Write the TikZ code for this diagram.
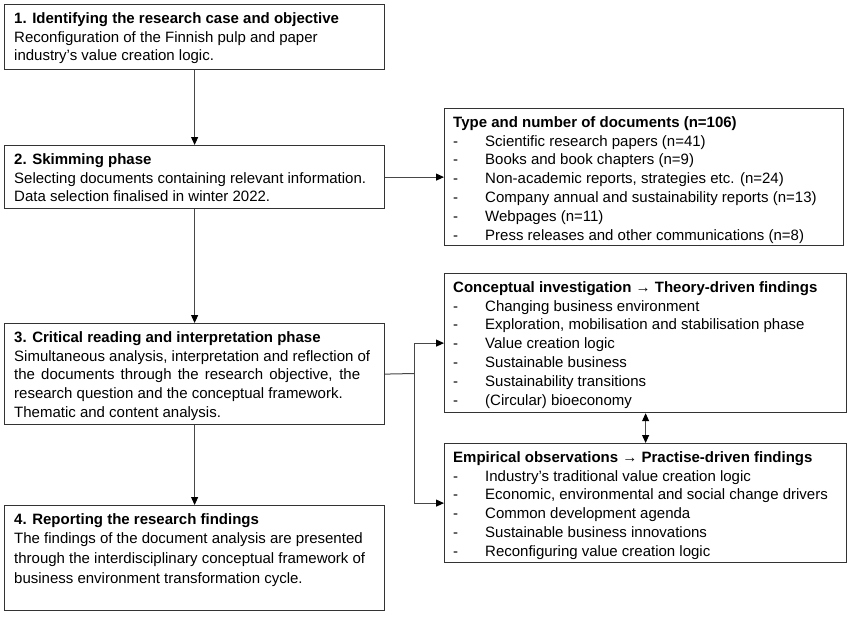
\documentclass[tikz,border=0pt]{standalone}
\usepackage{fontspec}
\setmainfont{Liberation Sans}
\usetikzlibrary{arrows.meta}
\newcommand{\lstitem}[1]{\makebox[32pt][l]{-}#1}
\begin{document}
\begin{tikzpicture}[x=1pt,y=-1pt,
  box/.style={draw=black!80, line width=1.2pt, inner sep=0pt, anchor=north west},
  txt/.style={anchor=north west, inner sep=0pt, align=left, font=\fontsize{15}{18.8}\selectfont},
  tip/.tip={Triangle[length=8pt,width=7pt,color=black]},
  arr/.style={draw=black!72, line width=1pt, -tip},
  darr/.style={draw=black!72, line width=1pt, tip-tip},
  ln/.style={draw=black!72, line width=1pt}]
\useasboundingbox (0,0) rectangle (850,618);

\node[box, minimum width=380pt, minimum height=65pt] (b1) at (4,4) {};
\node[box, minimum width=380pt, minimum height=63pt] (b2) at (4,145) {};
\node[box, minimum width=380pt, minimum height=101pt] (b3) at (4,323) {};
\node[box, minimum width=380pt, minimum height=105pt] (b4) at (4,505) {};
\node[box, minimum width=399pt, minimum height=137pt] (bt) at (444,108) {};
\node[box, minimum width=402pt, minimum height=139pt] (bc) at (444,273) {};
\node[box, minimum width=402pt, minimum height=119pt] (be) at (444,443) {};

\node[txt] (t1) at (14,12.2) {\textbf{1. Identifying the research case and objective}\\
Reconfiguration of the Finnish pulp and paper\\
industry’s value creation logic.};
\node[txt] (t2) at (14,153.2) {\textbf{2. Skimming phase}\\
Selecting documents containing relevant information.\\
Data selection finalised in winter 2022.};
\node[txt] (t3) at (14,331.2) {\textbf{3. Critical reading and interpretation phase}\\
\makebox[356pt][s]{Simultaneous analysis, interpretation and reflection of}\\
\makebox[346pt][s]{the documents through the research objective, the}\\
research question and the conceptual framework.\\
Thematic and content analysis.};
\node[txt, font=\fontsize{15}{19.6}\selectfont] (t4) at (14,513.2) {\textbf{4. Reporting the research findings}\\
The findings of the document analysis are presented\\
through the interdisciplinary conceptual framework of\\
business environment transformation cycle.};

\node[txt] (tt) at (453,116.2) {\textbf{Type and number of documents (n=106)}\\
\lstitem{Scientific research papers (n=41)}\\
\lstitem{Books and book chapters (n=9)}\\
\lstitem{Non-academic reports, strategies etc. (n=24)}\\
\lstitem{Company annual and sustainability reports (n=13)}\\
\lstitem{Webpages (n=11)}\\
\lstitem{Press releases and other communications (n=8)}};
\node[txt] (tc) at (453,281.2) {\textbf{Conceptual investigation {\mdseries→} Theory-driven findings}\\
\lstitem{Changing business environment}\\
\lstitem{Exploration, mobilisation and stabilisation phase}\\
\lstitem{Value creation logic}\\
\lstitem{Sustainable business}\\
\lstitem{Sustainability transitions}\\
\lstitem{(Circular) bioeconomy}};
\node[txt] (te) at (453,451.2) {\textbf{Empirical observations {\mdseries→} Practise-driven findings}\\
\lstitem{Industry’s traditional value creation logic}\\
\lstitem{Economic, environmental and social change drivers}\\
\lstitem{Common development agenda}\\
\lstitem{Sustainable business innovations}\\
\lstitem{Reconfiguring value creation logic}};

\draw[arr] (b1.south) -- (b2.north);
\draw[arr] (b2.east) -- (bt.west);
\draw[arr] (b2.south) -- (b3.north);
\draw[arr] (b3.south) -- (b4.north);
\coordinate (j) at (414,373.5);
\draw[ln] (b3.east) -- (j);
\draw[arr] (j) |- (bc.west);
\draw[arr] (j) |- (be.west);
\draw[darr] (bc.south) -- (be.north);
\end{tikzpicture}
\end{document}
